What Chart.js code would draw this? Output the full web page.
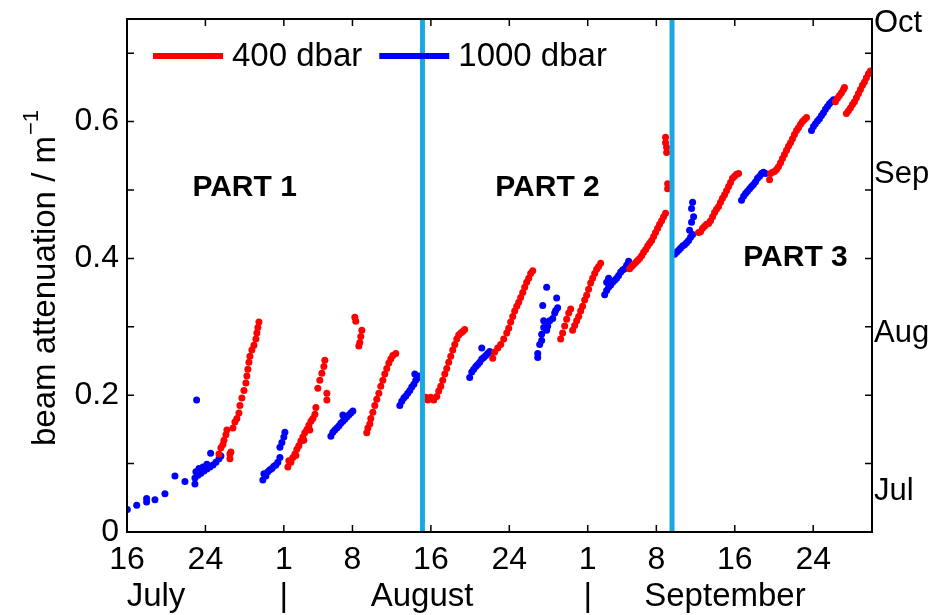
<!DOCTYPE html>
<html lang="en">
<head>
  <meta charset="UTF-8">
  <title>Beam attenuation</title>
  <script src="https://cdn.jsdelivr.net/npm/chart.js"></script>
  <style>
    body { margin: 0; background: #fff; }
    canvas { display: block; }
  </style>
</head>
<body>
  <canvas id="chart" width="944" height="615"></canvas>
  <script>
    // x = days since 16 July, y = beam attenuation (1/m)
    const red400 = [
      [9.38,0.114],[9.58,0.123],[9.79,0.128],[9.89,0.134],[10.09,0.142],[10.19,0.149],[10.50,0.114],[10.50,0.107],[10.60,0.117],
      [10.81,0.152],[11.01,0.161],[11.21,0.166],[11.42,0.174],[11.52,0.185],[11.72,0.196],[11.93,0.207],[12.13,0.218],[12.23,0.228],
      [12.33,0.238],[12.44,0.248],[12.54,0.257],[12.74,0.266],[12.95,0.273],[13.15,0.282],[13.25,0.291],[13.35,0.299],[13.46,0.307],
      [16.41,0.095],[16.51,0.104],[16.72,0.102],[16.92,0.109],[17.13,0.114],[17.23,0.112],[17.33,0.121],[17.53,0.126],[17.74,0.133],
      [17.94,0.139],[18.04,0.134],[18.14,0.145],[18.35,0.150],[18.55,0.156],[18.65,0.149],[18.76,0.162],[18.96,0.166],[19.17,0.172],[19.27,0.182],
      [19.47,0.210],[19.67,0.222],[19.88,0.232],[20.08,0.242],[20.18,0.251],[20.39,0.203],[20.39,0.193],
      [23.24,0.314],[23.34,0.308],[23.65,0.272],[23.75,0.277],[23.85,0.286],[23.96,0.295],
      [24.46,0.145],[24.57,0.152],[24.77,0.158],[24.87,0.166],[25.08,0.175],[25.28,0.185],[25.48,0.194],[25.69,0.203],
      [25.89,0.213],[26.10,0.222],[26.30,0.231],[26.50,0.239],[26.71,0.247],[26.91,0.253],[27.12,0.258],[27.42,0.261],
      [30.48,0.197],[30.68,0.193],[30.99,0.197],[31.29,0.193],[31.60,0.198],[31.80,0.206],[32.01,0.213],[32.21,0.222],[32.42,0.231],
      [32.62,0.239],[32.82,0.248],[33.03,0.257],[33.23,0.266],[33.44,0.274],[33.64,0.282],[33.84,0.288],[34.05,0.291],[34.25,0.293],[34.45,0.296],
      [37.31,0.254],[37.51,0.263],[37.82,0.269],[38.12,0.274],[38.43,0.282],[38.74,0.291],[38.94,0.298],[39.14,0.307],[39.35,0.315],
      [39.55,0.323],[39.76,0.330],[39.96,0.336],[40.16,0.343],[40.37,0.350],[40.57,0.358],[40.77,0.365],[40.98,0.371],[41.18,0.378],[41.39,0.382],
      [44.24,0.282],[44.44,0.291],[44.65,0.301],[44.85,0.311],[45.06,0.320],[45.26,0.326],[45.46,0.295],[45.67,0.302],[45.87,0.309],
      [46.08,0.315],[46.28,0.323],[46.48,0.330],[46.69,0.339],[46.89,0.346],[47.09,0.355],[47.30,0.364],[47.50,0.371],[47.71,0.378],
      [47.91,0.384],[48.11,0.388],[48.32,0.393],
      [51.27,0.385],[51.48,0.388],[51.68,0.391],[51.89,0.394],[52.09,0.397],[52.29,0.400],[52.50,0.404],[52.70,0.409],[52.91,0.413],
      [53.11,0.418],[53.31,0.422],[53.52,0.426],[53.72,0.432],[53.92,0.438],[54.13,0.444],[54.33,0.450],[54.54,0.455],[54.74,0.461],[54.94,0.466],
      [54.94,0.577],[54.94,0.569],[55.05,0.562],[55.05,0.555],[55.15,0.509],[55.15,0.502],
      [58.31,0.438],[58.51,0.439],[58.72,0.444],[58.92,0.447],[59.12,0.450],[59.33,0.451],[59.53,0.455],[59.74,0.461],[59.94,0.467],
      [60.14,0.472],[60.35,0.476],[60.55,0.482],[60.75,0.488],[60.96,0.493],[61.16,0.499],[61.37,0.505],[61.57,0.511],[61.77,0.517],
      [61.98,0.520],[62.18,0.523],[62.39,0.524],
      [65.55,0.515],[65.65,0.524],[65.85,0.526],[66.06,0.527],[66.26,0.530],[66.46,0.534],[66.67,0.540],[66.87,0.546],[67.07,0.552],
      [67.28,0.558],[67.48,0.564],[67.69,0.569],[67.89,0.575],[68.09,0.581],[68.30,0.587],[68.50,0.591],[68.71,0.596],[68.91,0.600],
      [69.11,0.603],[69.32,0.606],
      [72.27,0.629],[72.48,0.634],[72.68,0.638],[72.89,0.642],[73.09,0.647],[73.19,0.650],
      [73.39,0.612],[73.60,0.616],[73.80,0.620],[74.01,0.625],[74.21,0.629],[74.41,0.635],[74.62,0.641],[74.82,0.647],[75.03,0.653],
      [75.23,0.658],[75.43,0.664],[75.64,0.670],[75.84,0.674]
    ];

    const blue1000 = [
      [0.03,0.033],[0.99,0.039],[2.00,0.044],[2.00,0.049],[2.85,0.047],[3.87,0.056],[4.89,0.082],[5.91,0.074],[7.10,0.193],
      [6.93,0.079],[6.93,0.070],[7.03,0.088],[7.24,0.083],[7.34,0.093],[7.54,0.086],[7.75,0.095],[7.85,0.089],[8.15,0.092],
      [8.15,0.099],[8.46,0.095],[8.53,0.115],[8.77,0.098],[9.07,0.102],[9.38,0.107],[9.58,0.111],
      [13.86,0.076],[13.97,0.085],[14.17,0.082],[14.37,0.088],[14.58,0.091],[14.78,0.093],[14.98,0.096],[15.19,0.098],
      [15.39,0.102],[15.60,0.109],[15.60,0.124],[15.80,0.131],[16.00,0.139],[16.11,0.146],
      [20.80,0.140],[21.00,0.146],[21.20,0.149],[21.41,0.152],[21.61,0.155],[21.81,0.159],[22.02,0.162],[22.02,0.171],
      [22.22,0.165],[22.43,0.168],[22.63,0.171],[22.83,0.174],[23.04,0.177],
      [27.83,0.185],[28.03,0.191],[28.24,0.196],[28.44,0.199],[28.64,0.203],[28.85,0.207],[29.05,0.212],[29.26,0.216],
      [29.36,0.231],[29.46,0.222],[29.66,0.225],[29.87,0.228],
      [34.96,0.226],[35.17,0.234],[35.37,0.238],[35.58,0.242],[35.78,0.245],[35.98,0.248],[36.19,0.253],[36.19,0.269],
      [36.39,0.255],[36.60,0.258],[36.80,0.261],[37.00,0.264],
      [41.90,0.255],[41.90,0.261],[42.10,0.274],[42.30,0.280],[42.30,0.289],[42.41,0.331],[42.51,0.299],[42.51,0.309],
      [42.81,0.295],[42.81,0.358],[42.92,0.301],[43.12,0.309],[43.43,0.312],[43.63,0.320],[43.73,0.324],[43.83,0.342],[43.93,0.328],
      [48.73,0.347],[48.93,0.353],[48.93,0.365],[49.13,0.358],[49.13,0.371],[49.34,0.361],[49.54,0.365],[49.75,0.368],
      [49.95,0.371],[50.15,0.375],[50.36,0.380],[50.56,0.383],[50.76,0.385],[50.97,0.390],[51.17,0.396],
      [55.86,0.406],[56.07,0.409],[56.27,0.412],[56.47,0.415],[56.68,0.418],[56.88,0.420],[57.08,0.423],[57.29,0.426],
      [57.39,0.441],[57.49,0.431],[57.59,0.453],[57.59,0.473],[57.70,0.435],[57.70,0.482],[57.80,0.461],
      [62.69,0.485],[62.90,0.491],[63.10,0.495],[63.30,0.498],[63.51,0.502],[63.71,0.505],[63.91,0.508],[64.12,0.512],
      [64.32,0.517],[64.53,0.520],[64.73,0.524],[64.93,0.526],[65.14,0.524],
      [69.83,0.587],[70.03,0.593],[70.23,0.597],[70.44,0.601],[70.64,0.604],[70.85,0.609],[71.05,0.613],[71.25,0.618],
      [71.46,0.622],[71.66,0.626],[71.87,0.629],[72.07,0.632]
    ];

    const dividerDays = [30.14, 55.6];

    const xTickDays = [0, 8, 16, 23, 31, 39, 47, 54, 62, 70];
    const xTickLabels = ['16', '24', '1', '8', '16', '24', '1', '8', '16', '24'];
    const monthRowDays = [2.96, 16, 30.1, 47, 61.0];
    const monthRowLabels = ['July', '|', 'August', '|', 'September'];

    const yTickValues = [0, 0.1, 0.2, 0.3, 0.4, 0.5, 0.6, 0.7];
    const yTickLabels = ['0', '', '0.2', '', '0.4', '', '0.6', ''];
    const rightTickValues = [0.06, 0.29, 0.522, 0.743];
    const rightTickLabels = ['Jul', 'Aug', 'Sep', 'Oct'];

    const yTitle = 'beam attenuation / m';
    const yTitleSup = '\u22121';

    const partLabels = ['PART 1', 'PART 2', 'PART 3'];
    const partDays = [12.0, 42.9, 68.2];
    const partValues = [0.504, 0.504, 0.401];

    const FONT = '"Liberation Sans", Arial, Helvetica, sans-serif';
    const toXY = arr => arr.map(p => ({ x: p[0], y: p[1] }));
    const noPad = s => { s.paddingTop = 0; s.paddingBottom = 0; s.paddingLeft = 0; s.paddingRight = 0; };

    const decorations = {
      id: 'decorations',
      afterDraw(chart) {
        const { ctx, chartArea: a, scales } = chart;
        const x = scales.x, y = scales.y;
        ctx.save();

        // axes box
        ctx.strokeStyle = '#000';
        ctx.lineWidth = 2;
        ctx.strokeRect(a.left, a.top, a.right - a.left, a.bottom - a.top);

        // inward tick marks on all four sides
        ctx.lineWidth = 1.5;
        ctx.beginPath();
        xTickDays.forEach(d => {
          const px = x.getPixelForValue(d);
          ctx.moveTo(px, a.bottom); ctx.lineTo(px, a.bottom - 7);
          ctx.moveTo(px, a.top); ctx.lineTo(px, a.top + 7);
        });
        yTickValues.forEach(v => {
          const py = y.getPixelForValue(v);
          ctx.moveTo(a.left, py); ctx.lineTo(a.left + 7, py);
          ctx.moveTo(a.right, py); ctx.lineTo(a.right - 7, py);
        });
        ctx.stroke();

        // month row under the day ticks
        ctx.fillStyle = '#000';
        ctx.font = '33px ' + FONT;
        ctx.textAlign = 'center';
        ctx.textBaseline = 'middle';
        monthRowDays.forEach((d, i) => {
          ctx.fillText(monthRowLabels[i], x.getPixelForValue(d), 597);
        });

        // y title with superscript
        ctx.save();
        ctx.translate(55, (a.top + a.bottom) / 2);
        ctx.rotate(-Math.PI / 2);
        ctx.textBaseline = 'alphabetic';
        ctx.textAlign = 'left';
        ctx.font = '33px ' + FONT;
        const w1 = ctx.measureText(yTitle).width;
        ctx.font = '22px ' + FONT;
        const w2 = ctx.measureText(yTitleSup).width;
        const sx = -(w1 + w2) / 2 - 3;
        ctx.font = '33px ' + FONT;
        ctx.fillText(yTitle, sx, 0);
        ctx.font = '22px ' + FONT;
        ctx.fillText(yTitleSup, sx + w1 + 1, -17);
        ctx.restore();

        // PART labels
        ctx.font = 'bold 30px ' + FONT;
        partLabels.forEach((t, i) => {
          ctx.fillText(t, x.getPixelForValue(partDays[i]), y.getPixelForValue(partValues[i]));
        });

        // legend inside the axes
        ctx.font = '33px ' + FONT;
        ctx.textAlign = 'left';
        let lx = a.left + 26;
        const ly = a.top + 37;
        chart.data.datasets.filter(ds => ds.label).forEach(ds => {
          ctx.strokeStyle = ds.backgroundColor;
          ctx.lineWidth = 6;
          ctx.beginPath();
          ctx.moveTo(lx, ly); ctx.lineTo(lx + 70, ly);
          ctx.stroke();
          ctx.fillText(ds.label, lx + 79, ly + 1);
          lx += 79 + ctx.measureText(ds.label).width + 17;
        });

        ctx.restore();
      }
    };

    new Chart(document.getElementById('chart'), {
      type: 'scatter',
      data: {
        datasets: [
          {
            label: '400 dbar',
            data: toXY(red400),
            backgroundColor: '#ff0000',
            borderWidth: 0,
            pointRadius: 3.5
          },
          {
            label: '1000 dbar',
            data: toXY(blue1000),
            backgroundColor: '#0000ff',
            borderWidth: 0,
            pointRadius: 3.5
          },
          ...dividerDays.map(d => ({
            type: 'line',
            data: [{ x: d, y: 0 }, { x: d, y: 0.75 }],
            borderColor: '#1ba7e0',
            borderWidth: 5,
            pointRadius: 0,
            order: -1
          }))
        ]
      },
      options: {
        responsive: false,
        animation: false,
        devicePixelRatio: 1,
        layout: { padding: { top: 19, left: 0, right: 0, bottom: 0 } },
        plugins: {
          legend: { display: false },
          tooltip: { enabled: false }
        },
        scales: {
          x: {
            type: 'linear',
            min: 0,
            max: 76,
            grid: { display: false, drawTicks: false },
            border: { display: false },
            afterBuildTicks: s => { s.ticks = xTickDays.map(v => ({ value: v })); },
            afterFit: s => { s.height = 83; noPad(s); },
            ticks: {
              autoSkip: false,
              maxRotation: 0,
              padding: 9,
              color: '#000',
              font: { family: FONT, size: 32 },
              callback: (v, i) => xTickLabels[i]
            }
          },
          y: {
            min: 0,
            max: 0.75,
            grid: { display: false, drawTicks: false },
            border: { display: false },
            afterBuildTicks: s => { s.ticks = yTickValues.map(v => ({ value: v })); },
            afterFit: s => { s.width = 127; noPad(s); },
            ticks: {
              padding: 8,
              color: '#000',
              font: { family: FONT, size: 32 },
              callback: (v, i) => yTickLabels[i]
            }
          },
          y2: {
            position: 'right',
            min: 0,
            max: 0.75,
            grid: { display: false, drawTicks: false },
            border: { display: false },
            afterBuildTicks: s => { s.ticks = rightTickValues.map(v => ({ value: v })); },
            afterFit: s => { s.width = 72; noPad(s); },
            ticks: {
              padding: 2,
              color: '#000',
              font: { family: FONT, size: 31 },
              callback: (v, i) => rightTickLabels[i]
            }
          }
        }
      },
      plugins: [decorations]
    });
  </script>
</body>
</html>
